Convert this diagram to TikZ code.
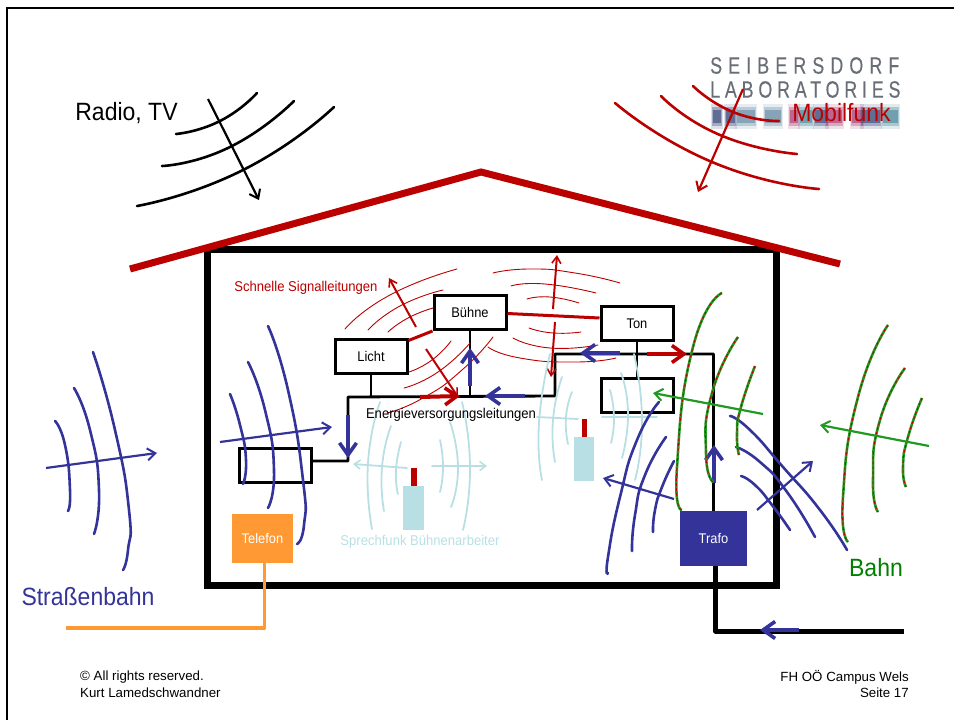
\documentclass[tikz,border=0pt]{standalone}
\usepackage{fontspec}
\setmainfont[FakeStretch=0.92]{Liberation Sans}
\newfontfamily\footfont{Liberation Sans}
\newfontfamily\logofontA[FakeStretch=0.76,LetterSpace=26,FakeBold=0.4]{Liberation Sans}
\newfontfamily\logofontB[FakeStretch=0.76,LetterSpace=20.5,FakeBold=0.4]{Liberation Sans}
\usetikzlibrary{arrows.meta}
\definecolor{dachrot}{RGB}{187,0,0}
\definecolor{tramblau}{RGB}{51,51,153}
\definecolor{funkblau}{RGB}{184,224,228}
\definecolor{bahngruen}{RGB}{34,153,34}
\definecolor{telefonorange}{RGB}{255,153,51}
\definecolor{logograu}{RGB}{105,110,118}
\definecolor{lognavy}{RGB}{30,50,105}
\definecolor{logstahl}{RGB}{85,125,155}
\definecolor{logteal}{RGB}{50,120,140}
\definecolor{logmagenta}{RGB}{160,40,100}
\tikzset{
	every plot/.style={smooth, tension=1},
	kasten/.style={draw=black, line width=3pt, minimum width=72pt, minimum height=34pt, inner sep=0pt, font=\fontsize{14}{16}\selectfont},
	geraet/.style={fill=funkblau, inner sep=0pt},
	welle/.style={line width=2.6pt, line cap=round},
	signal/.style={draw=dachrot, line width=0.9pt, line cap=round},
	funk/.style={draw=funkblau, line width=1.8pt, line cap=round},
	bus/.style={draw=black, line width=2.8pt, line join=round},
	duenn/.style={-{Straight Barb[length=8pt,width=12pt,line width=2pt]}, line width=2.2pt},
	dick/.style={-{Straight Barb[length=12pt,width=17pt,line width=3.6pt]}, line width=4pt},
	titel/.style={font=\fontsize{25}{28}\selectfont, inner sep=0pt},
	klein/.style={font=\fontsize{14.2}{16}\selectfont, inner sep=0pt},
	fuss/.style={font=\footfont\fontsize{13.3}{15}\selectfont, inner sep=0pt}
}
\begin{document}
\begin{tikzpicture}[x=1pt, y=-1pt]
	\useasboundingbox (0,0) rectangle (954,720);
	\draw[line width=2.5pt] (7,720) -- (7,8) -- (954,8);

	% 1. logo
	\node[font=\logofontA\fontsize{23.5}{24}\selectfont, text=logograu, anchor=west, inner sep=0pt] (seibersdorf) at (710,65.5) {SEIBERSDORF};
	\node[font=\logofontB\fontsize{23.5}{24}\selectfont, text=logograu, anchor=west, inner sep=0pt] (laboratories) at (710,89.5) {LABORATORIES};
	\foreach \xa/\xb/\farbe in {713/721/lognavy, 726/735/lognavy, 737/755/logstahl, 765/781/logstahl, 790/798/logmagenta, 800/812/logteal, 815/827/lognavy, 827/842/logmagenta, 852/862/logmagenta, 862/880/lognavy, 883/898/logteal}{
		\fill[\farbe, opacity=0.15] (\xa-2,104) rectangle (\xb+2,129);
		\fill[\farbe, opacity=0.3] (\xa-1,107) rectangle (\xb+1,126);
		\fill[\farbe, opacity=0.5] (\xa,110) rectangle (\xb,123);
	}

	% 2. house and roof
	\draw[line width=7pt, line join=miter] (207,249) rectangle (776,585);
	\draw[dachrot, line width=7pt] (130,269) -- (481,172) -- (840,264);

	% 3. boxes
	\node[kasten] (licht) at (371,356) {Licht};
	\node[kasten] (buehne) at (470,312.5) {Bühne};
	\node[kasten] (ton) at (637,323.5) {Ton};
	\node[kasten] (kastenR) at (637,395) {};
	\node[kasten] (kastenL) at (275,465) {};
	\node[fill=telefonorange, minimum width=61pt, minimum height=49pt, inner sep=0pt, text=white, font=\fontsize{14}{16}\selectfont] (telefon) at (262.5,538.5) {Telefon};
	\node[fill=tramblau, minimum width=67pt, minimum height=55pt, inner sep=0pt, text=white, font=\fontsize{14}{16}\selectfont] (trafo) at (713.5,538.5) {Trafo};
	\node[geraet, minimum width=21pt, minimum height=44pt] (funk1) at (413.5,508) {};
	\node[geraet, minimum width=20pt, minimum height=44pt] (funk2) at (584,459) {};
	\node[fill=dachrot, inner sep=0pt, minimum width=6pt, minimum height=18pt, anchor=south] (antenne1) at (funk1.north) {};
	\node[fill=dachrot, inner sep=0pt, minimum width=5pt, minimum height=18pt, anchor=south] (antenne2) at (funk2.north) {};

	% 4. lines
	\coordinate (busA) at (348,461);
	\coordinate (busB) at (348,397);
	\coordinate (busC) at (555,396);
	\coordinate (busD) at (555,354);
	\coordinate (busE) at (713.5,354);
	\coordinate (netzA) at (715.5,631);
	\coordinate (netzB) at (904,631);
	\coordinate (telefonEcke) at (264.5,628);
	\coordinate (telefonEnde) at (66,628);
	\draw[bus] (kastenL.east |- busA) -- (busA) -- (busB) -- (busC) -- (busD) -- (busE) -- (trafo.north);
	\draw[bus, line width=5pt] (trafo.south -| netzA) -- (netzA) -- (netzB);
	\draw[bus] (licht.south) -- (licht.south |- busB);
	\draw[bus] (buehne.south) -- (buehne.south |- busB);
	\draw[bus] (ton.south) -- (kastenR.north);
	\draw[telefonorange, line width=3.5pt, line join=round] (telefon.south -| telefonEcke) -- (telefonEcke) -- (telefonEnde);
	\draw[dachrot, line width=3pt] (licht.north east) ++(0,3) -- (buehne.south west);
	\draw[dachrot, line width=3pt] (buehne.east) ++(0,1) -- ([yshift=5.5pt]ton.west);

	% 5. fast signal lines
	\draw[signal] plot coordinates {(345,329) (390,295) (457,269)};
	\draw[signal] plot coordinates {(368,330) (400,306) (443,290)};
	\draw[signal] plot coordinates {(388,332) (408,318) (433,308)};
	\draw[signal] plot coordinates {(409,372) (432,360) (451,341)};
	\draw[signal] plot coordinates {(404,388) (438,372) (470,343)};
	\draw[signal] plot coordinates {(387,413) (423,398) (462,370) (493,337)};
	\draw[signal] plot coordinates {(493,273) (530,269) (575,273) (620,283)};
	\draw[signal] plot coordinates {(511,286) (545,284) (596,293)};
	\draw[signal] plot coordinates {(527,299) (550,297) (579,303)};
	\draw[signal] plot coordinates {(529,328) (553,333) (581,332)};
	\draw[signal] plot coordinates {(513,338) (550,348) (598,345)};
	\draw[signal] plot coordinates {(488,347) (520,358) (575,362) (616,358)};
	\begin{scope}[dachrot, line width=2pt, -{Straight Barb[length=7pt,width=9pt,line width=1.6pt]}]
		\draw (416,327) -- (389,278);
		\draw (426,349) -- (458,397);
		\draw (553,309) -- (557,255);
		\draw (555,322) -- (551,377);
	\end{scope}

	% 6. site radio
	\draw[funk] plot coordinates {(380,402) (368,463) (372,529)};
	\draw[funk] plot coordinates {(391,426) (382,467) (384,511)};
	\draw[funk] plot coordinates {(401,442) (396,470) (398,494)};
	\draw[funk] plot coordinates {(440,440) (443,467) (440,492)};
	\draw[funk] plot coordinates {(450,422) (458,467) (451,507)};
	\draw[funk] plot coordinates {(462,402) (470,467) (463,530)};
	\draw[funk] plot coordinates {(550,354) (539,423) (542,480)};
	\draw[funk] plot coordinates {(562,377) (553,420) (555,462)};
	\draw[funk] plot coordinates {(572,392) (566,417) (568,444)};
	\draw[funk] plot coordinates {(610,390) (614,417) (611,443)};
	\draw[funk] plot coordinates {(621,373) (628,413) (622,458)};
	\draw[funk] plot coordinates {(634,354) (642,420) (635,480)};
	\begin{scope}[funk, -{Straight Barb[length=6pt,width=9pt,line width=1.6pt]}]
		\draw (407,468) -- (353,464);
		\draw (432,466) -- (487,466);
	\end{scope}
	\draw[funk] (578,419) -- (537,417);
	\draw[funk] (602,417) -- (657,417);

	% 7. thick arrows on the supply lines
	\begin{scope}[dick]
		\draw[tramblau] (348,415) -- (348,458);
		\draw[dachrot] (420,397) -- (460,396);
		\draw[tramblau] (525,396) -- (485,396);
		\draw[tramblau] (470,386) -- (470,348);
		\draw[tramblau] (620,353) -- (580,353);
		\draw[dachrot] (647,354) -- (687,354);
		\draw[tramblau] (714,483) -- (714,445);
		\draw[tramblau] (799,630) -- (760,630);
	\end{scope}

	% 8. Radio, TV
	\draw[welle] plot coordinates {(176,134) (220,121) (257,93)};
	\draw[welle] plot coordinates {(162,166) (230,147) (294,101)};
	\draw[welle] plot coordinates {(137,206) (243,170) (334,107)};
	\draw[duenn] (208,99) -- (259,200);

	% 9. Mobilfunk
	\draw[welle, dachrot] plot coordinates {(693,86) (733,112) (779,121)};
	\draw[welle, dachrot] plot coordinates {(661,96) (720,135) (797,154)};
	\draw[welle, dachrot] plot coordinates {(615,103) (712,162) (819,189)};
	\draw[duenn, dachrot] (743,89) -- (698,192);

	% 10. Strassenbahn
	\draw[welle, tramblau] plot coordinates {(55,421) (65,445) (70,490) (68,511)};
	\draw[welle, tramblau] plot coordinates {(74,388) (90,430) (99,490) (94,534)};
	\draw[welle, tramblau] plot coordinates {(93,352) (115,430) (129,510) (128,550) (123,570)};
	\draw[duenn, tramblau] (46,468) -- (157,453);
	\draw[welle, tramblau] plot coordinates {(230,394) (240,425) (246,460) (243,484)};
	\draw[welle, tramblau] plot coordinates {(248,362) (265,410) (274,470) (268,508)};
	\draw[welle, tramblau] plot coordinates {(268,326) (288,390) (303,480) (304,525) (297,544)};
	\draw[duenn, tramblau] (220,442) -- (332,427);

	% 11. Trafo
	\draw[welle, tramblau] plot coordinates {(659,402) (637,440) (620,497) (608,557) (608,573)};
	\draw[welle, tramblau] plot coordinates {(666,437) (645,475) (635,515) (632,551)};
	\draw[welle, tramblau] plot coordinates {(674,461) (662,487) (655,510) (653,532)};
	\draw[duenn, tramblau] (674,499) -- (603,478);
	\draw[welle, tramblau] plot coordinates {(730,416) (750,430) (783,467) (820,510) (847,550)};
	\draw[welle, tramblau] plot coordinates {(736,447) (760,462) (787,492) (815,537)};
	\draw[welle, tramblau] plot coordinates {(741,476) (755,485) (772,505) (790,530)};
	\draw[duenn, tramblau] (757,510) -- (813,461);

	% 12. Bahn
	\foreach \farbe/\stil/\breite in {bahngruen/solid/2.6pt, dachrot/densely dashed/0.9pt}{
		\begin{scope}[draw=\farbe, \stil, line width=\breite]
			\draw plot coordinates {(722,293) (693,347) (677,467) (682,510)};
			\draw plot coordinates {(738,337) (712,393) (706,453) (713,482)};
			\draw plot coordinates {(755,366) (741,407) (737,433) (739,455)};
			\draw plot coordinates {(888,325) (858,397) (843,497) (848,542)};
			\draw plot coordinates {(905,368) (880,420) (873,480) (878,512)};
			\draw plot coordinates {(922,398) (908,437) (903,467) (906,487)};
		\end{scope}
	}
	\draw[duenn, bahngruen] (763,414) -- (653,393);
	\draw[duenn, bahngruen] (929,446) -- (820,425);

	% 13. labels
	\node[titel] (radio) at (126.5,113) {Radio, TV};
	\node[titel, text=dachrot] (mobilfunk) at (841.5,113) {Mobilfunk};
	\node[titel, text=tramblau] (strassenbahn) at (88,597) {Straßenbahn};
	\node[titel, text=green!50!black] (bahn) at (876,568) {Bahn};
	\node[klein, text=dachrot] (schnelle) at (306,288) {Schnelle Signalleitungen};
	\node[klein] (energie) at (451,415) {Energieversorgungsleitungen};
	\node[klein, text=funkblau] (sprechfunk) at (420,542) {Sprechfunk Bühnenarbeiter};
	\node[fuss, anchor=west] (rechte) at (80,677) {© All rights reserved.};
	\node[fuss, anchor=west] (autor) at (80,693) {Kurt Lamedschwandner};
	\node[fuss, anchor=east] (campus) at (909,677) {FH OÖ Campus Wels};
	\node[fuss, anchor=east] (seite) at (909,693) {Seite 17};
\end{tikzpicture}
\end{document}
